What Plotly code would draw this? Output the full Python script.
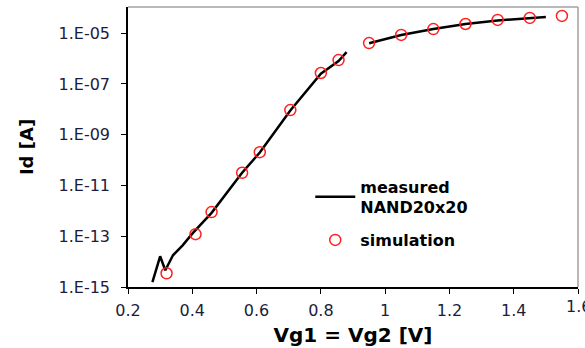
import plotly.graph_objects as go

# measured NAND20x20 (log10 of Id); None = gap in the curve
meas_vg = [0.276, 0.30, 0.316, 0.34, 0.37, 0.40, 0.46, 0.555, 0.61, 0.705, 0.80, 0.855, 0.88,
           None, 0.95, 1.05, 1.15, 1.25, 1.35, 1.45, 1.50]
meas_log_id = [-14.81, -13.79, -14.34, -13.75, -13.36, -12.9, -12.08, -10.5, -9.7, -8.05, -6.6, -6.1, -5.75,
               None, -5.4, -5.07, -4.84, -4.64, -4.5, -4.4, -4.36]

# simulation
sim_vg = [0.32, 0.41, 0.46, 0.555, 0.61, 0.705, 0.80, 0.855, 0.95, 1.05, 1.15, 1.25, 1.35, 1.45, 1.55]
sim_log_id = [-14.46, -12.92, -12.05, -10.5, -9.69, -8.03, -6.57, -6.06, -5.39, -5.07, -4.84, -4.64, -4.48, -4.4, -4.32]

x_ticks = [0.2, 0.4, 0.6, 0.8, 1.0, 1.2, 1.4, 1.6]
x_ticklabels = ["0.2", "0.4", "0.6", "0.8", "1", "1.2", "1.4", "1.6"]
y_ticks = [1e-15, 1e-13, 1e-11, 1e-9, 1e-7, 1e-5]
y_ticklabels = ["1.E-15", "1.E-13", "1.E-11", "1.E-09", "1.E-07", "1.E-05"]

meas_id = [None if v is None else 10 ** v for v in meas_log_id]
sim_id = [10 ** v for v in sim_log_id]

tickfont = dict(family="DejaVu Sans", size=16, color="#1c1c3c")

fig = go.Figure()
fig.add_trace(go.Scatter(x=meas_vg, y=meas_id, mode="lines", name="measured<br>NAND20x20",
                         legendgroup="measured",
                         line=dict(color="black", width=2.5), connectgaps=False))
fig.add_trace(go.Scatter(x=sim_vg, y=sim_id, mode="markers", name="simulation",
                         legendgroup="simulation",
                         marker=dict(symbol="circle-open", size=11, color="#ff2020",
                                     line=dict(width=1.5, color="#ff2020"))))

# last x tick label (partly cut by the right edge, as in the reference)
fig.add_annotation(x=x_ticks[-1], xref="x", y=0, yref="paper", yanchor="top", yshift=-8,
                   text=x_ticklabels[-1], showarrow=False, font=tickfont)

fig.update_layout(
    width=585, height=348,
    margin=dict(l=128, r=7, t=7, b=61),
    paper_bgcolor="white", plot_bgcolor="white",
    showlegend=True,
    legend=dict(x=0.405, y=0.42, xanchor="left", yanchor="top",
                bgcolor="rgba(0,0,0,0)", tracegroupgap=9, itemwidth=40,
                font=dict(family="DejaVu Sans", size=16, color="black", weight="bold")),
    xaxis=dict(range=[0.2, 1.6], tickvals=x_ticks, ticktext=x_ticklabels, automargin=False,
               showgrid=False, zeroline=False, showline=True, linecolor="black", linewidth=1.5,
               ticks="outside", ticklen=5, tickcolor="black", tickfont=tickfont, ticklabelstandoff=3,
               title=dict(text="Vg1 = Vg2 [V]", standoff=9,
                          font=dict(family="DejaVu Sans", size=20, color="black", weight="bold"))),
    yaxis=dict(type="log", range=[-15, -3.97], tickvals=y_ticks, ticktext=y_ticklabels, automargin=False,
               showgrid=False, zeroline=False, showline=True, linecolor="black", linewidth=1.5,
               ticks="outside", ticklen=5, tickcolor="black", tickfont=tickfont, ticklabelstandoff=8,
               title=dict(text="Id [A]", standoff=20,
                          font=dict(family="DejaVu Sans", size=18, color="black", weight="bold"))),
    shapes=[
        dict(type="line", xref="paper", yref="paper", x0=0, x1=1, y0=1, y1=1,
             line=dict(color="#a0a0a0", width=1.5)),
        dict(type="line", xref="paper", yref="paper", x0=1, x1=1, y0=0, y1=1,
             line=dict(color="#a0a0a0", width=1.5)),
    ],
)

fig.write_html("out.html", config={"displayModeBar": False},
               post_script="document.body.style.margin='0';document.body.style.overflow='hidden';")
